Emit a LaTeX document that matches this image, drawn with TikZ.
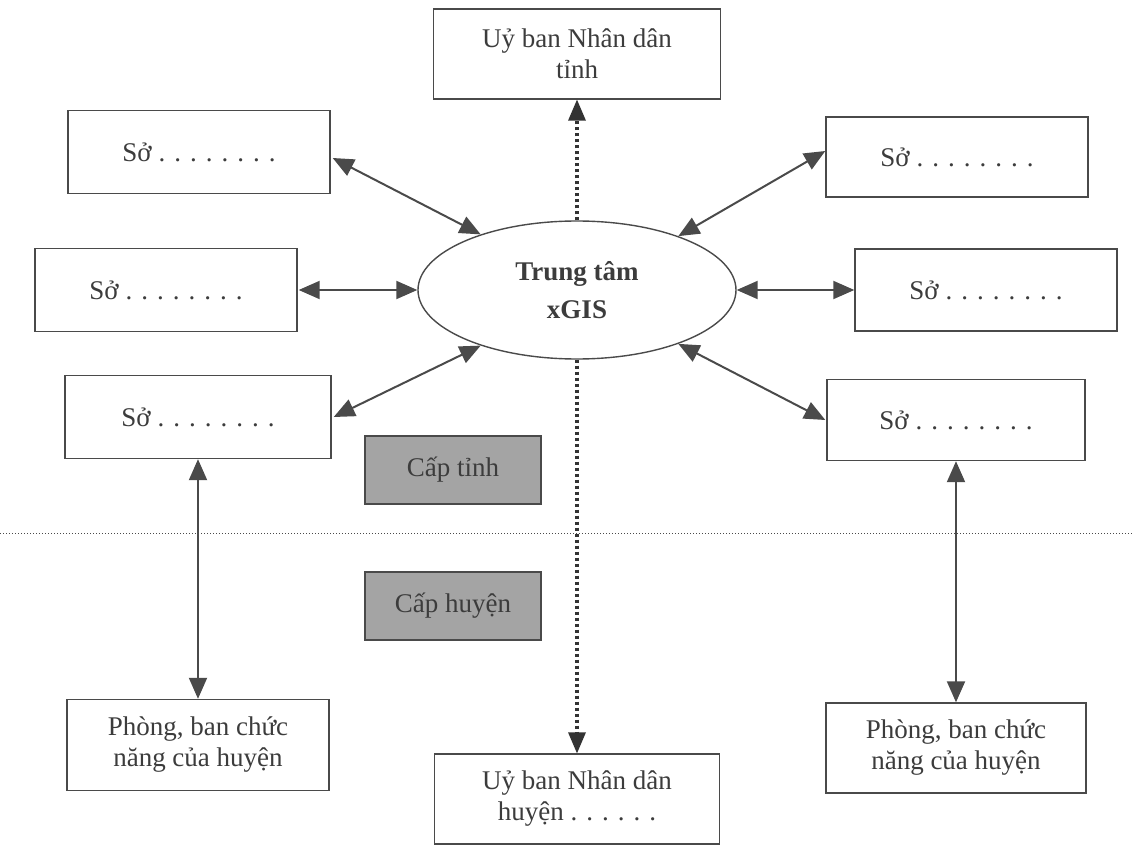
\documentclass[tikz,border=0pt]{standalone}
\usepackage{fontspec}
\setmainfont{Liberation Serif}
\usetikzlibrary{arrows.meta,shapes.geometric}
\definecolor{ink}{HTML}{3C3C3C}
\definecolor{lineink}{HTML}{4A4A4A}
\definecolor{shade}{HTML}{A4A4A4}
\tikzset{
  every node/.style={text=ink},
  boxnode/.style={draw=lineink, line width=1.4pt, inner sep=0pt, align=center,
    font=\fontsize{27}{31}\selectfont},
  sobox/.style={boxnode, minimum width=262pt, minimum height=83pt},
  levelbox/.style={draw=lineink, line width=1.4pt, fill=shade, minimum width=176pt,
    minimum height=68pt, inner sep=0pt, font=\fontsize{27}{31}\selectfont, text=ink},
  link/.style={draw=lineink, line width=2pt, {Triangle[length=21pt,width=18pt]}-{Triangle[length=21pt,width=18pt]}},
  dotlink/.style={draw=black!80, line width=3.2pt, dash pattern=on 3pt off 3pt, -{Triangle[length=21pt,width=18pt,line width=0pt]}},
}
\begin{document}
\begin{tikzpicture}[x=1pt,y=-1pt]
\useasboundingbox (0,0) rectangle (1133,845);
% central ellipse
\node[ellipse, draw=lineink, line width=1.4pt, minimum width=318pt, minimum height=138pt,
  inner sep=0pt, align=center, font=\fontsize{27}{38}\selectfont\bfseries] (X) at (577,290) {Trung tâm\\xGIS};
% top and bottom UBND boxes
\node[boxnode, minimum width=287pt, minimum height=90pt] (UT) at (577,54) {Uỷ ban Nhân dân\\tỉnh};
\node[boxnode, minimum width=285pt, minimum height=90pt] (UB) at (577,799) {Uỷ ban Nhân dân\\huyện . . . . . .};
% So boxes
\node[sobox] (L1) at (199,152) {Sở . . . . . . . .};
\node[sobox] (L2) at (166,290) {Sở . . . . . . . .};
\node[sobox, minimum width=266pt] (L3) at (198,417) {Sở . . . . . . . .};
\node[sobox, minimum height=80pt] (R1) at (957,157) {Sở . . . . . . . .};
\node[sobox, minimum height=82pt] (R2) at (986,290) {Sở . . . . . . . .};
\node[sobox, minimum width=258pt, minimum height=81pt] (R3) at (956,420) {Sở . . . . . . . .};
% district boxes
\node[boxnode, minimum width=262pt, minimum height=91pt] (BL) at (198,745) {Phòng, ban chức\\năng của huyện};
\node[boxnode, minimum width=260pt, minimum height=90pt] (BR) at (956,748) {Phòng, ban chức\\năng của huyện};
% level labels
\node[levelbox] (CT) at (453,470) {Cấp tỉnh};
\node[levelbox] (CH) at (453,606) {Cấp huyện};
% separator
\coordinate (sepL) at (0,533);
\coordinate (sepR) at (1133,533);
\draw[lineink, line width=0.8pt, dash pattern=on 1.2pt off 1.8pt] (sepL) -- (sepR);
% connectors
\draw[link] ([shift={(2,6)}]L1.east) -- (X.150);
\draw[link] ([xshift=1pt]L2.east) -- (X.west);
\draw[link] ([xshift=2pt]L3.east) -- (X.210);
\draw[link] ([yshift=6pt]R1.west) -- (X.28);
\draw[link] (R2.west) -- (X.east);
\draw[link] ([xshift=-1pt]R3.west) -- (X.-28);
\draw[link] (L3.south) -- (BL.north);
\draw[link] (R3.south) -- (BR.north);
\draw[dotlink] (X.north) -- (UT.south);
\draw[dotlink] (X.south) -- (UB.north);
\end{tikzpicture}
\end{document}
